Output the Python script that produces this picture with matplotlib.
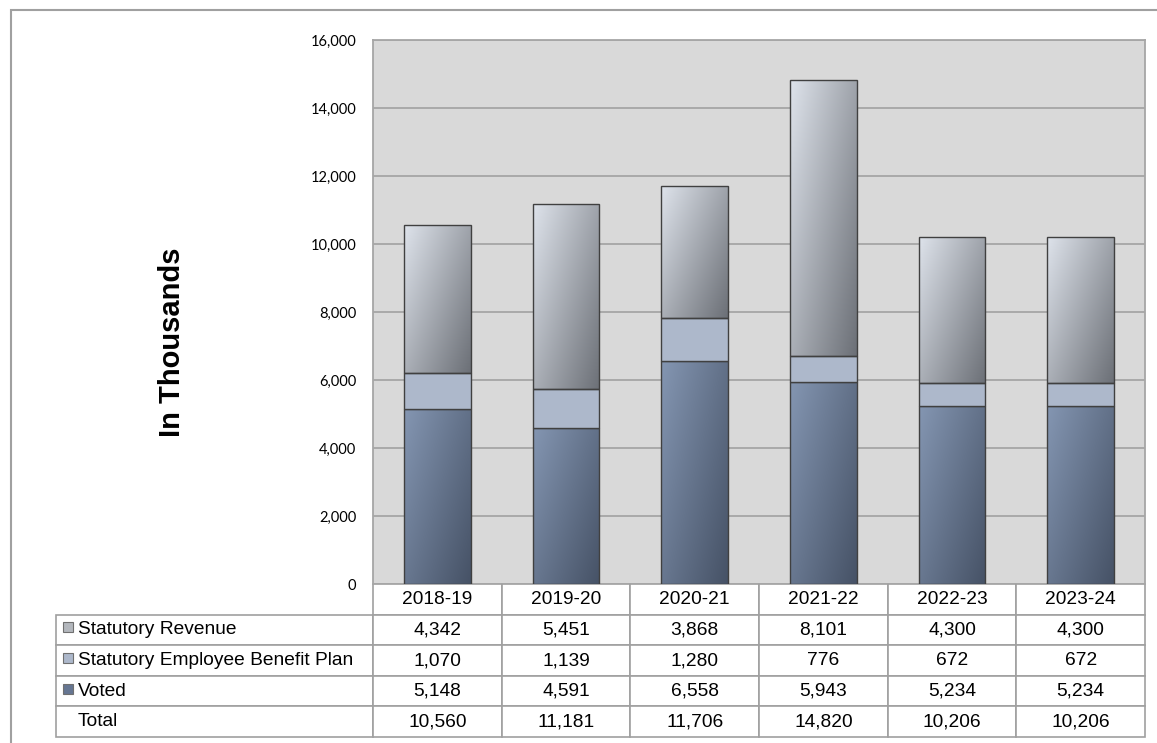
import numpy as np
import matplotlib
matplotlib.use('Agg')
import matplotlib.pyplot as plt
from matplotlib.colors import LinearSegmentedColormap
from matplotlib.patches import Rectangle

# data
categories = ['2018-19', '2019-20', '2020-21', '2021-22', '2022-23', '2023-24']
voted = [5148, 4591, 6558, 5943, 5234, 5234]
ebp = [1070, 1139, 1280, 776, 672, 672]
revenue = [4342, 5451, 3868, 8101, 4300, 4300]
totals = [10560, 11181, 11706, 14820, 10206, 10206]
row_names = ['Statutory Revenue', 'Statutory Employee Benefit Plan', 'Voted', 'Total']

voted_cmap = LinearSegmentedColormap.from_list('voted', ['#8496B2', '#465266'])
rev_cmap = LinearSegmentedColormap.from_list('rev', ['#DEE3EB', '#6C7077'])
ebp_color = '#ADB8CB'
edge = '#404040'
grid_col = '#A6A6A6'

fig = plt.figure(figsize=(11.57, 7.43), dpi=100)
ax = fig.add_axes([373 / 1157, 1 - 584 / 743, 772 / 1157, 544 / 743])
ax.set_facecolor('#D9D9D9')

x = np.arange(len(categories))
width = 0.52

# diagonal gradient: light top-left, dark bottom-right
u = np.linspace(0, 1, 60)[None, :]
v = np.linspace(0, 1, 200)[:, None]
grad = 0.55 * u + 0.45 * v


def gradient_bars(bottoms, heights, cmap):
    bars = ax.bar(x, heights, width, bottom=bottoms, color='none',
                  edgecolor=edge, linewidth=1.0, zorder=3)
    for b in bars:
        x0, y0 = b.get_x(), b.get_y()
        im = ax.imshow(grad, cmap=cmap, extent=(x0, x0 + b.get_width(), y0, y0 + b.get_height()),
                       origin='upper', aspect='auto', interpolation='bilinear', zorder=2)
        im.set_clip_path(b)
    return bars


gradient_bars(np.zeros(len(voted)), voted, voted_cmap)
ax.bar(x, ebp, width, bottom=voted, color=ebp_color, edgecolor=edge, linewidth=1.0, zorder=3)
gradient_bars(np.array(voted) + np.array(ebp), revenue, rev_cmap)

ax.set_xlim(-0.5, len(categories) - 0.5)
ax.set_ylim(0, 16000)
ticks = list(range(0, 16001, 2000))
ax.set_yticks(ticks)
ax.set_yticklabels([f'{t:,}' for t in ticks], fontfamily='Lato', fontsize=10.5)
ax.tick_params(axis='y', length=0, pad=12)
ax.get_yticklabels()[0].set_y(180)
ax.set_xticks([])
ax.grid(axis='y', color=grid_col, linewidth=1.3, zorder=0)
ax.set_axisbelow(True)
for s in ax.spines.values():
    s.set_color(grid_col)
    s.set_linewidth(1.3)
ax.spines['bottom'].set_visible(False)

fig.text(172 / 1157, 1 - 342 / 743, 'In Thousands', rotation=90, ha='center', va='center',
         fontsize=21, fontweight='bold', fontfamily='Liberation Sans')

# data table under the bars
cell_text = [[''] + categories]
for name, vals in zip(row_names, [revenue, ebp, voted, totals]):
    cell_text.append([name] + [f'{v:,}' for v in vals])

lab_w = 317 / 1089
col_w = (1 - lab_w) / len(categories)
tab = ax.table(cellText=cell_text, colWidths=[lab_w] + [col_w] * len(categories),
               bbox=[-317 / 772, -153 / 544, 1089 / 772, 153 / 544], cellLoc='center')
tab.auto_set_font_size(False)
for (r, c), cell in tab.get_celld().items():
    cell.set_edgecolor('#A0A0A0')
    cell.set_linewidth(1.2)
    cell.set_facecolor('white')
    cell.get_text().set_fontfamily('Liberation Sans')
    cell.get_text().set_fontsize(13.8)
    if c == 0:
        cell.get_text().set_ha('left')
        cell._loc = 'left'
        cell.PAD = 22 / 317
    if r == 0 and c == 0:
        cell.visible_edges = ''

# legend keys in the table
key_cols = ['#B3B7BD', ebp_color, '#667692']
for i, kc in enumerate(key_cols):
    yc = -(28 + 31 * i + 15) / 544
    ax.add_patch(Rectangle((-310 / 772, yc - 5 / 544), 10 / 772, 10 / 544, transform=ax.transAxes,
                           facecolor=kc, edgecolor='#707070', linewidth=0.8, clip_on=False, zorder=5))

# outer frame
fig.add_artist(Rectangle((11 / 1157, -0.05), 1.2, 0.05 + 1 - 10 / 743, transform=fig.transFigure,
                         fill=False, edgecolor='#A0A0A0', linewidth=1.5))

fig.savefig('out.png', dpi=100)
